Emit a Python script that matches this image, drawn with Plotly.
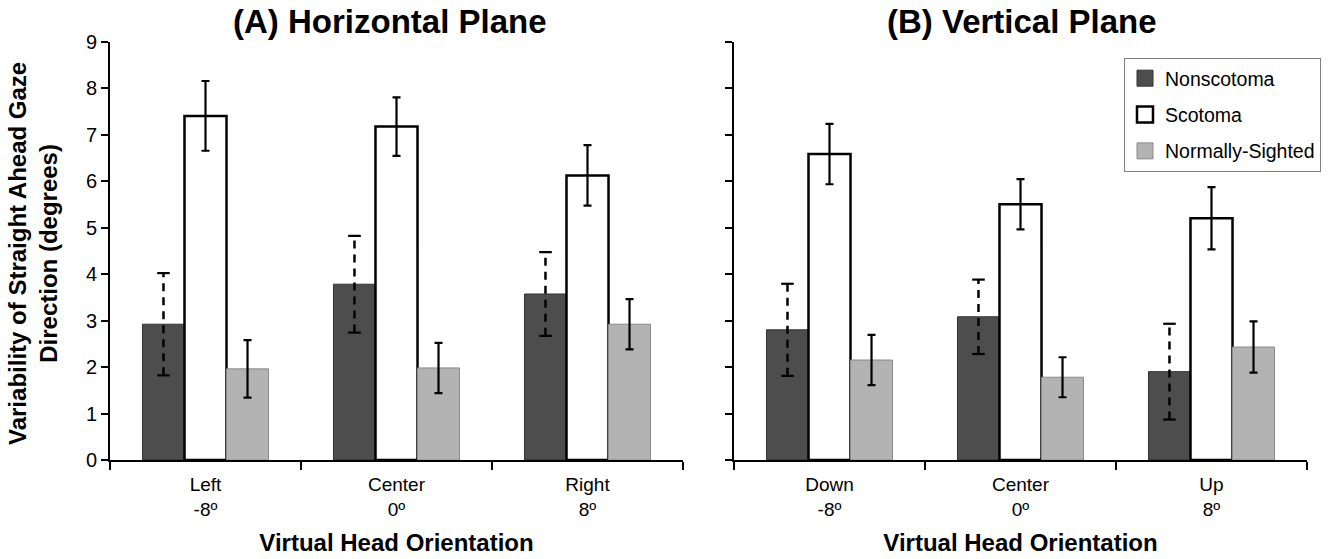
import plotly.graph_objects as go

# Category labels for the two panels
groups_h = ["Left<br>-8º", "Center<br>0º", "Right<br>8º"]
groups_v = ["Down<br>-8º", "Center<br>0º", "Up<br>8º"]
series = ["Nonscotoma", "Scotoma", "Normally-Sighted"]

# (A) Horizontal plane: means and error half-widths (degrees)
h_nonscotoma = [2.92, 3.78, 3.57]
h_nonscotoma_err = [1.10, 1.04, 0.90]
h_scotoma = [7.40, 7.17, 6.12]
h_scotoma_err = [0.75, 0.63, 0.65]
h_normal = [1.96, 1.98, 2.92]
h_normal_err = [0.62, 0.54, 0.54]

# (B) Vertical plane
v_nonscotoma = [2.80, 3.08, 1.90]
v_nonscotoma_err = [0.99, 0.80, 1.03]
v_scotoma = [6.58, 5.50, 5.20]
v_scotoma_err = [0.65, 0.54, 0.67]
v_normal = [2.15, 1.78, 2.43]
v_normal_err = [0.54, 0.43, 0.55]

FONT = "Liberation Sans, Arial, Helvetica, sans-serif"
DARK = "#4d4d4d"
LIGHT = "#b3b3b3"

BAR_W = 0.22
OFFSETS = [-BAR_W, 0.0, BAR_W]

fig = go.Figure()


def add_panel(xa, ya, non, non_err, sco, sco_err, nor, nor_err):
    idx = list(range(len(non)))
    xs = [[i + off for i in idx] for off in OFFSETS]

    fig.add_trace(go.Bar(
        x=xs[0], y=non, width=BAR_W, xaxis=xa, yaxis=ya,
        marker=dict(color=DARK, line=dict(color="#333333", width=1)),
        showlegend=False, hoverinfo="y"))
    fig.add_trace(go.Bar(
        x=xs[1], y=sco, width=BAR_W, xaxis=xa, yaxis=ya,
        marker=dict(color="white", line=dict(color="black", width=2.5)),
        error_y=dict(type="data", array=sco_err, color="black",
                     thickness=2.2, width=4),
        showlegend=False, hoverinfo="y"))
    fig.add_trace(go.Bar(
        x=xs[2], y=nor, width=BAR_W, xaxis=xa, yaxis=ya,
        marker=dict(color=LIGHT, line=dict(color="#8a8a8a", width=1)),
        error_y=dict(type="data", array=nor_err, color="black",
                     thickness=2.2, width=4),
        showlegend=False, hoverinfo="y"))

    # dashed error bars for the nonscotoma group
    lx, ly = [], []
    cx, cy = [], []
    for x, v, e in zip(xs[0], non, non_err):
        lx += [x, x, None]
        ly += [v - e, v + e, None]
        cx += [x, x]
        cy += [v - e, v + e]
    fig.add_trace(go.Scatter(
        x=lx, y=ly, mode="lines", xaxis=xa, yaxis=ya,
        line=dict(color="black", width=2.5, dash="8px,6px"),
        showlegend=False, hoverinfo="skip"))
    fig.add_trace(go.Scatter(
        x=cx, y=cy, mode="markers", xaxis=xa, yaxis=ya,
        marker=dict(symbol="line-ew", size=9,
                    line=dict(color="black", width=2.2)),
        showlegend=False, hoverinfo="skip"))


add_panel("x", "y", h_nonscotoma, h_nonscotoma_err, h_scotoma,
          h_scotoma_err, h_normal, h_normal_err)
add_panel("x2", "y2", v_nonscotoma, v_nonscotoma_err, v_scotoma,
          v_scotoma_err, v_normal, v_normal_err)

# legend swatches
legend_styles = [
    dict(color=DARK, line=dict(color="#333333", width=1)),
    dict(color="white", line=dict(color="black", width=2.5)),
    dict(color=LIGHT, line=dict(color="#8a8a8a", width=1)),
]
for name, mk in zip(series, legend_styles):
    fig.add_trace(go.Scatter(
        x=[None], y=[None], mode="markers", name=name, legendgroup=name,
        xaxis="x2", yaxis="y2",
        marker=dict(symbol="square", size=16, **mk)))

xaxis_common = dict(
    range=[-0.5, 2.5], tickmode="array", tickvals=[0, 1, 2],
    ticks="", showline=True, linecolor="black", linewidth=2,
    showgrid=False, zeroline=False, ticklabelstandoff=6,
    automargin=False,
    tickfont=dict(family=FONT, size=19, color="black"),
    minor=dict(tickvals=[-0.5, 0.5, 1.5, 2.5], ticks="outside",
               ticklen=8, tickwidth=2, tickcolor="black", showgrid=False),
    title=dict(text="<b>Virtual Head Orientation</b>", standoff=16,
               font=dict(family=FONT, size=24, color="black")),
)
yaxis_common = dict(
    range=[0, 9], tickmode="array", tickvals=list(range(10)),
    ticks="outside", ticklen=7, tickwidth=2, tickcolor="black",
    showline=True, linecolor="black", linewidth=2,
    showgrid=False, zeroline=False, automargin=False,
    tickfont=dict(family=FONT, size=20, color="black"),
    domain=[1 - 460 / 559, 1 - 41.5 / 559],
)

fig.update_layout(
    width=1333, height=559,
    margin=dict(l=0, r=0, t=0, b=0, autoexpand=False),
    paper_bgcolor="white", plot_bgcolor="white",
    barmode="overlay",
    font=dict(family=FONT, color="black"),
    xaxis=dict(domain=[110 / 1333, 683 / 1333], anchor="y",
               ticktext=groups_h, **xaxis_common),
    yaxis=dict(anchor="x", showticklabels=True, **yaxis_common),
    xaxis2=dict(domain=[734 / 1333, 1307 / 1333], anchor="y2",
                ticktext=groups_v, **xaxis_common),
    yaxis2=dict(anchor="x2", showticklabels=False, **yaxis_common),
    legend=dict(x=1124 / 1333, y=1 - 58 / 559, xanchor="left",
                yanchor="top", bgcolor="white", bordercolor="#7f7f7f",
                borderwidth=1, tracegroupgap=8,
                font=dict(family=FONT, size=19.5, color="black")),
    annotations=[
        dict(text="<b>(A) Horizontal Plane</b>", x=390 / 1333,
             y=1 - 21 / 559, xref="paper", yref="paper", showarrow=False,
             xanchor="center", yanchor="middle",
             font=dict(family=FONT, size=33, color="black")),
        dict(text="<b>(B) Vertical Plane</b>", x=1022 / 1333,
             y=1 - 21 / 559, xref="paper", yref="paper", showarrow=False,
             xanchor="center", yanchor="middle",
             font=dict(family=FONT, size=33, color="black")),
        dict(text="<b>Variability of Straight Ahead Gaze<br>"
                  "Direction (degrees)</b>",
             x=33 / 1333, y=1 - 254 / 559, xref="paper", yref="paper",
             showarrow=False, textangle=-90, xanchor="center",
             yanchor="middle",
             font=dict(family=FONT, size=24, color="black")),
    ],
)

fig.write_html("out.html")
